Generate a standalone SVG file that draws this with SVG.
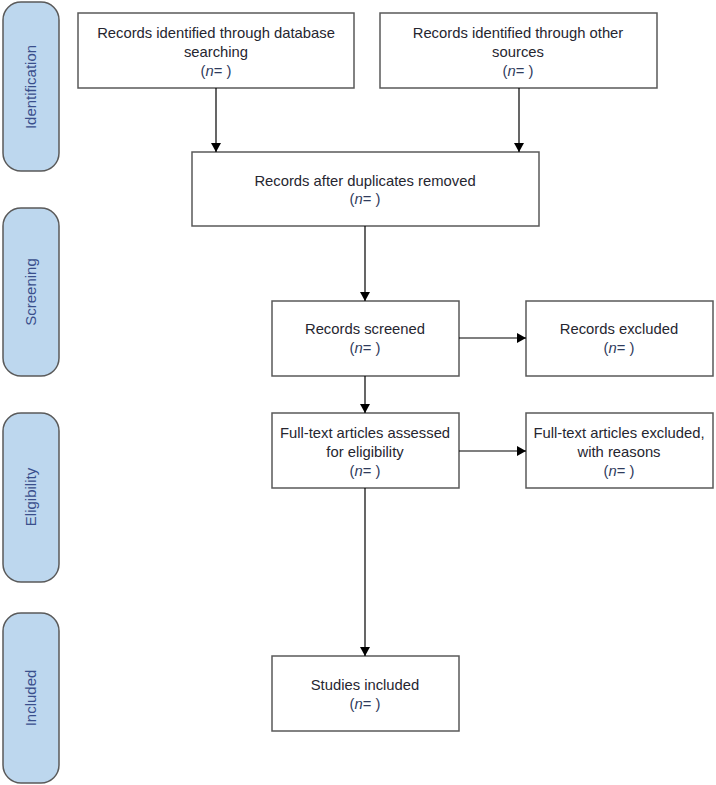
<svg xmlns="http://www.w3.org/2000/svg" width="716" height="785" viewBox="0 0 716 785">
<style>
.box{fill:#fff;stroke:#595959;stroke-width:1.5}
.phase{fill:#bdd7ee;stroke:#5a5a5a;stroke-width:1.5}
.t{font-family:"Liberation Sans",Arial,sans-serif;font-size:14.8px;fill:#262630;text-anchor:middle}
.n{fill:#2f3b5c}
.pt{font-family:"Liberation Sans",Arial,sans-serif;font-size:15px;fill:#3a4f8c;text-anchor:middle}
.c{stroke:#000;stroke-width:1.2;fill:none;marker-end:url(#ah)}
</style>
<defs>
<marker id="ah" markerWidth="12" markerHeight="12" refX="9" refY="5.5" orient="auto" markerUnits="userSpaceOnUse">
<path d="M0,0.5 L9,5.5 L0,10.5 Z" fill="#000"/>
</marker>
</defs>
<g id="phase-identification"><rect class="phase" x="3" y="2" width="56" height="169" rx="18"/><text class="pt" transform="translate(36,87) rotate(-90)">Identification</text></g>
<g id="phase-screening"><rect class="phase" x="3" y="208" width="56" height="168" rx="18"/><text class="pt" transform="translate(36,292) rotate(-90)">Screening</text></g>
<g id="phase-eligibility"><rect class="phase" x="3" y="413" width="56" height="169" rx="18"/><text class="pt" transform="translate(36,497) rotate(-90)">Eligibility</text></g>
<g id="phase-included"><rect class="phase" x="3" y="613" width="56" height="170" rx="18"/><text class="pt" transform="translate(36,698) rotate(-90)">Included</text></g>

<g id="db"><rect class="box" x="78" y="13" width="276" height="75"/>
<text class="t" x="216" y="38">Records identified through database</text>
<text class="t" x="216" y="57">searching</text>
<text class="t n" x="216" y="76">(<tspan font-style="italic">n</tspan>= )</text></g>
<g id="other"><rect class="box" x="380" y="13" width="277" height="75"/>
<text class="t" x="518" y="38">Records identified through other</text>
<text class="t" x="518" y="57">sources</text>
<text class="t n" x="518" y="76">(<tspan font-style="italic">n</tspan>= )</text></g>
<g id="dedup"><rect class="box" x="192" y="152" width="347" height="74"/>
<text class="t" x="365" y="186">Records after duplicates removed</text>
<text class="t n" x="365" y="204">(<tspan font-style="italic">n</tspan>= )</text></g>
<g id="screened"><rect class="box" x="272" y="301" width="187" height="75"/>
<text class="t" x="365" y="334">Records screened</text>
<text class="t n" x="365" y="353">(<tspan font-style="italic">n</tspan>= )</text></g>
<g id="excluded"><rect class="box" x="526" y="301" width="187" height="75"/>
<text class="t" x="619" y="334">Records excluded</text>
<text class="t n" x="619" y="353">(<tspan font-style="italic">n</tspan>= )</text></g>
<g id="fulltext"><rect class="box" x="272" y="413" width="187" height="75"/>
<text class="t" x="365" y="438">Full-text articles assessed</text>
<text class="t" x="365" y="457">for eligibility</text>
<text class="t n" x="365" y="476">(<tspan font-style="italic">n</tspan>= )</text></g>
<g id="ftexcluded"><rect class="box" x="526" y="413" width="187" height="75"/>
<text class="t" x="619" y="438">Full-text articles excluded,</text>
<text class="t" x="619" y="457">with reasons</text>
<text class="t n" x="619" y="476">(<tspan font-style="italic">n</tspan>= )</text></g>
<g id="included"><rect class="box" x="272" y="656" width="187" height="75"/>
<text class="t" x="365" y="690">Studies included</text>
<text class="t n" x="365" y="709">(<tspan font-style="italic">n</tspan>= )</text></g>

<g id="connectors">
<line class="c" x1="216" y1="88" x2="216" y2="152"/>
<line class="c" x1="519" y1="88" x2="519" y2="152"/>
<line class="c" x1="365" y1="226" x2="365" y2="301"/>
<line class="c" x1="459" y1="338" x2="526" y2="338"/>
<line class="c" x1="365" y1="376" x2="365" y2="413"/>
<line class="c" x1="459" y1="451" x2="526" y2="451"/>
<line class="c" x1="365" y1="488" x2="365" y2="656"/>
</g>
</svg>
